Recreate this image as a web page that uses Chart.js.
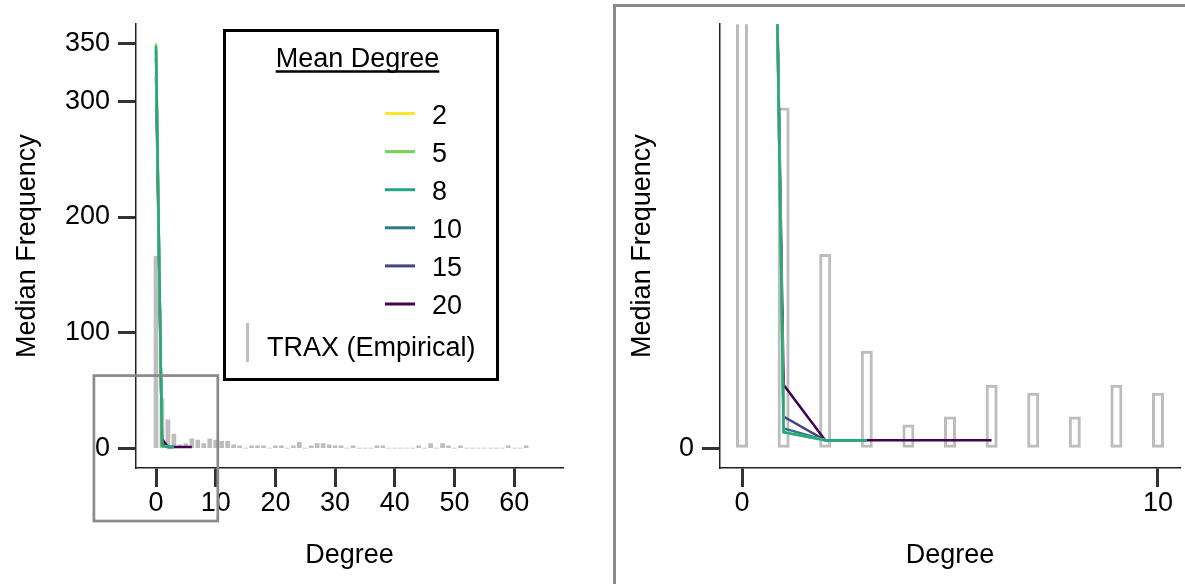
<!DOCTYPE html>
<html><head><meta charset="utf-8">
<script src="https://cdn.jsdelivr.net/npm/chart.js@4.4.1/dist/chart.umd.min.js"></script>
<style>
html,body{margin:0;padding:0;background:#fff;}
body{width:1185px;height:584px;position:relative;overflow:hidden;}
#wl{position:absolute;left:0;top:0;width:600px;height:584px;}
#wr{position:absolute;left:600px;top:0;width:585px;height:584px;}
#frame{position:absolute;left:613px;top:4px;width:620px;height:620px;border-left:3px solid #8a8a8a;border-top:3px solid #8a8a8a;}
</style></head><body>
<div id="frame"></div>
<div id="wl"><canvas id="cl" width="600" height="584"></canvas></div>
<div id="wr"><canvas id="cr" width="585" height="584"></canvas></div>
<script>
// ---------------- data ----------------
const degrees = [0,1,2,3,4,5,6,7,8,9,10,11,12,13,14,15,16,17,18,19,20,21,22,23,24,25,26,27,28,29,30,31,32,33,34,35,36,37,38,39,40,41,42,43,44,45,46,47,48,49,50,51,52,53,54,55,56,57,58,59,60,61,62];
const traxFrequency = [166,43,24.5,12.3,3,4,8,7,4,8,7,6,6,3,2,0,2,2,2,0,2,2,0,2,5,0,2,4,4,3,2,2,0,2,0,0,0,2,2,0,0,0,0,0,2,0,4,0,4,2,0,2,0,0,0,0,0,0,0,2,0,0,2];

const meanDegreeLabels = ['2','5','8','10','15','20'];
const md2  = [347, 2, 1];
const md5  = [350, 2, 1, 1];
const md8  = [348, 2, 1, 1];
const md10 = [344, 2.5, 1, 1];
const md15 = [338, 4, 1, 1];
const md20 = [322, 8, 1, 1, 1, 1, 1];
const meanDegreeSeries = [md2, md5, md8, md10, md15, md20];

const leftXTicks = [0,10,20,30,40,50,60];
const leftYTicks = [0,100,200,300,350];
const rightXTicks = [0,10];
const rightYTicks = [0];

// ---------------- styles ----------------
const FONT = '"Liberation Sans", Arial, sans-serif';
const FS = 27;
const meanDegreeColors = ['#fde725','#7ad151','#22a884','#2a788e','#414487','#440154'];
const drawOrder = {'8':0,'5':1,'2':2,'10':3,'15':4,'20':5};
const barGrey = '#bdbdbd';
const zoomBox = {xMin:-10.4, xMax:10.35, yMin:-63, yMax:62.8};

function pts(arr){ return arr.map((v,i)=>({x:degrees[i], y:v})); }

function lineDatasets(){
  return meanDegreeSeries.map((s,i)=>({
    type:'line', label:meanDegreeLabels[i], data:pts(s),
    borderColor:meanDegreeColors[i], borderWidth:2.5, pointRadius:0,
    fill:false, tension:0, order:drawOrder[meanDegreeLabels[i]]
  }));
}

function axis(opts){
  return {
    type:'linear', min:opts.min, max:opts.max, offset:false,
    afterBuildTicks: s => { s.ticks = opts.ticks.map(v=>({value:v})); },
    afterFit: s => { if (opts.w!==undefined) s.width = opts.w; if (opts.h!==undefined) s.height = opts.h; },
    grid:{display:true, drawOnChartArea:false, drawTicks:true, tickLength:opts.tl, tickWidth:3, tickColor:'#333', offset:false},
    border:{display:true, color:'#222', width:1.5},
    ticks:{color:'#000', font:{family:FONT, size:FS}, padding:opts.pad, maxRotation:0, autoSkip:false},
    title:{display:true, text:opts.title, color:'#000', font:{family:FONT, size:FS}, padding:opts.tpad}
  };
}

const legendPlugin = {
  id:'meanDegreeLegend',
  afterDraw(chart){
    const ctx = chart.ctx;
    ctx.save();
    ctx.fillStyle = '#fff';
    ctx.fillRect(224.5,30.5,273,349);
    ctx.strokeStyle = '#000'; ctx.lineWidth = 3;
    ctx.strokeRect(224.5,30.5,273,349);
    ctx.font = FS + 'px ' + FONT;
    ctx.fillStyle = '#000';
    ctx.textBaseline = 'alphabetic';
    ctx.textAlign = 'center';
    const title = 'Mean Degree';
    ctx.fillText(title, 357.5, 67);
    const tw = ctx.measureText(title).width;
    ctx.lineWidth = 2.5;
    ctx.beginPath(); ctx.moveTo(357.5-tw/2, 71.5); ctx.lineTo(357.5+tw/2, 71.5); ctx.stroke();
    ctx.textAlign = 'left';
    meanDegreeLabels.forEach((lab,i)=>{
      const y = 113.5 + i*38.1;
      ctx.strokeStyle = meanDegreeColors[i]; ctx.lineWidth = 3;
      ctx.beginPath(); ctx.moveTo(385,y); ctx.lineTo(415,y); ctx.stroke();
      ctx.fillStyle = '#000';
      ctx.fillText(lab, 432, y+10);
    });
    ctx.strokeStyle = barGrey; ctx.lineWidth = 3;
    ctx.beginPath(); ctx.moveTo(247.5,323); ctx.lineTo(247.5,362); ctx.stroke();
    ctx.fillText('TRAX (Empirical)', 267, 355.5);
    // zoom box
    const xs = chart.scales.x, ys = chart.scales.y;
    const x1 = xs.getPixelForValue(zoomBox.xMin), x2 = xs.getPixelForValue(zoomBox.xMax);
    const y1 = ys.getPixelForValue(zoomBox.yMax), y2 = ys.getPixelForValue(zoomBox.yMin);
    ctx.strokeStyle = '#8a8a8a'; ctx.lineWidth = 2.7;
    ctx.strokeRect(x1, y1, x2-x1, y2-y1);
    ctx.restore();
  }
};

// ---------------- left chart ----------------
new Chart(document.getElementById('cl'), {
  type:'bar',
  data:{ datasets:[
    ...lineDatasets(),
    {type:'bar', label:'TRAX (Empirical)', data:pts(traxFrequency), backgroundColor:barGrey,
     borderWidth:0, barThickness:4, order:10}
  ]},
  options:{
    responsive:false, animation:false, devicePixelRatio:1,
    layout:{padding:{left:0, top:16.5, right:37, bottom:0}},
    plugins:{legend:{display:false}, tooltip:{enabled:false}},
    scales:{
      x: axis({min:-3.35, max:68.17, ticks:leftXTicks, h:116, tl:19, pad:0, title:'Degree', tpad:{top:0,bottom:12}}),
      y: axis({min:-17.14, max:366.8, ticks:leftYTicks, w:136, tl:18, pad:8, title:'Median Frequency', tpad:{top:11,bottom:0}})
    }
  },
  plugins:[legendPlugin]
});

// ---------------- right chart ----------------
new Chart(document.getElementById('cr'), {
  type:'bar',
  data:{ datasets:[
    ...lineDatasets(),
    {type:'bar', label:'TRAX (Empirical)', data:pts(traxFrequency), backgroundColor:'rgba(0,0,0,0)',
     borderColor:barGrey, borderWidth:3, borderSkipped:false, inflateAmount:0, barThickness:12, order:10}
  ]},
  options:{
    responsive:false, animation:false, devicePixelRatio:1,
    layout:{padding:{left:0, top:16.5, right:5, bottom:0}},
    plugins:{legend:{display:false}, tooltip:{enabled:false}},
    scales:{
      x: axis({min:-0.529, max:10.529, ticks:rightXTicks, h:116, tl:19, pad:0, title:'Degree', tpad:{top:0,bottom:12}}),
      y: axis({min:-2.5, max:53.5, ticks:rightYTicks, w:120, tl:18, pad:8, title:'Median Frequency', tpad:{top:26,bottom:0}})
    }
  }
});
</script>
</body></html>
